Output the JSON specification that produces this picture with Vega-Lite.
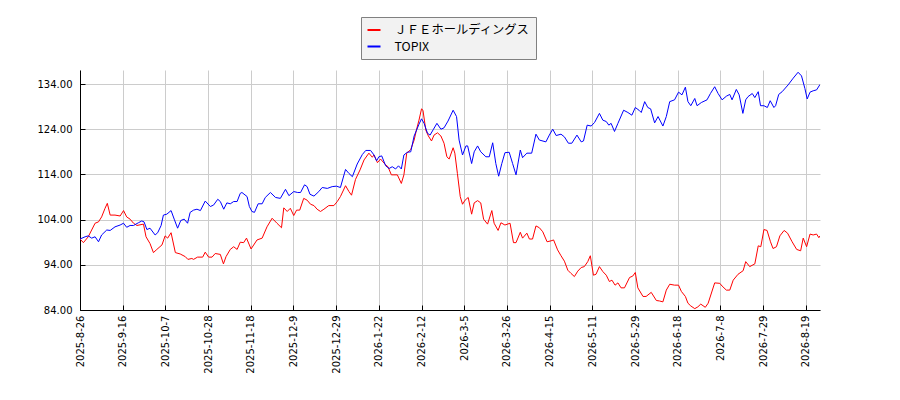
{
  "$schema": "https://vega.github.io/schema/vega-lite/v6.json",
  "autosize": {"type": "none"},
  "padding": {"left": 80, "top": 70, "right": 80, "bottom": 90},
  "width": 740,
  "height": 240,
  "background": "#ffffff",
  "datasets": {
    "jfe": [
      {"day": 0, "value": 99.7}, {"day": 1.2, "value": 98.9}, {"day": 2.9, "value": 100.2}, {"day": 4.1, "value": 101.7},
      {"day": 5.3, "value": 103.2}, {"day": 6.5, "value": 103.5}, {"day": 7.6, "value": 104.6}, {"day": 8.8, "value": 106.5},
      {"day": 9.6, "value": 107.6}, {"day": 10.6, "value": 105.0}, {"day": 12.3, "value": 105.0}, {"day": 14.1, "value": 104.8},
      {"day": 15.3, "value": 106.0}, {"day": 16.4, "value": 104.6}, {"day": 17.6, "value": 104.1}, {"day": 18.8, "value": 103.2},
      {"day": 20.0, "value": 102.7}, {"day": 22.3, "value": 103.0}, {"day": 23.2, "value": 100.2}, {"day": 24.6, "value": 98.7},
      {"day": 25.8, "value": 96.7}, {"day": 27.0, "value": 97.4}, {"day": 28.8, "value": 98.4}, {"day": 29.9, "value": 100.4},
      {"day": 30.8, "value": 99.9}, {"day": 32.0, "value": 101.1}, {"day": 33.5, "value": 96.7}, {"day": 35.2, "value": 96.4},
      {"day": 37.0, "value": 95.8}, {"day": 37.9, "value": 95.2}, {"day": 39.3, "value": 95.4}, {"day": 39.9, "value": 95.2},
      {"day": 41.3, "value": 95.7}, {"day": 43.1, "value": 95.7}, {"day": 44.0, "value": 96.8}, {"day": 45.2, "value": 95.7},
      {"day": 46.4, "value": 95.7}, {"day": 47.5, "value": 96.5}, {"day": 49.3, "value": 96.3}, {"day": 50.4, "value": 94.2},
      {"day": 51.3, "value": 95.8}, {"day": 52.8, "value": 97.4}, {"day": 54.0, "value": 98.0}, {"day": 55.2, "value": 97.4},
      {"day": 56.3, "value": 99.0}, {"day": 57.5, "value": 98.9}, {"day": 58.5, "value": 99.9}, {"day": 60.1, "value": 97.5},
      {"day": 62.2, "value": 99.5}, {"day": 64.0, "value": 99.9}, {"day": 65.7, "value": 102.4}, {"day": 67.5, "value": 104.3},
      {"day": 69.2, "value": 103.2}, {"day": 70.8, "value": 102.2}, {"day": 71.6, "value": 106.6}, {"day": 72.8, "value": 105.8},
      {"day": 73.9, "value": 106.5}, {"day": 75.1, "value": 104.9}, {"day": 76.1, "value": 106.1}, {"day": 77.2, "value": 106.1},
      {"day": 78.6, "value": 108.7}, {"day": 79.8, "value": 108.3}, {"day": 81.0, "value": 107.4}, {"day": 82.2, "value": 107.1},
      {"day": 83.3, "value": 106.3}, {"day": 84.5, "value": 105.8}, {"day": 85.7, "value": 106.3}, {"day": 87.4, "value": 107.1},
      {"day": 89.2, "value": 107.1}, {"day": 90.4, "value": 108.0}, {"day": 91.5, "value": 109.1}, {"day": 93.3, "value": 111.5},
      {"day": 94.5, "value": 110.2}, {"day": 95.4, "value": 109.4}, {"day": 96.8, "value": 112.9}, {"day": 98.4, "value": 115.0},
      {"day": 99.8, "value": 117.2}, {"day": 101.5, "value": 118.7}, {"day": 102.7, "value": 117.8}, {"day": 103.3, "value": 118.3},
      {"day": 104.5, "value": 116.6}, {"day": 105.6, "value": 117.4}, {"day": 107.4, "value": 116.1}, {"day": 108.2, "value": 115.7},
      {"day": 109.4, "value": 113.9}, {"day": 110.3, "value": 113.9}, {"day": 111.5, "value": 113.9}, {"day": 112.9, "value": 112.0},
      {"day": 113.8, "value": 113.9}, {"day": 114.8, "value": 118.7}, {"day": 116.2, "value": 119.5}, {"day": 117.4, "value": 121.6},
      {"day": 118.2, "value": 123.8}, {"day": 119.1, "value": 126.0}, {"day": 120.0, "value": 128.5}, {"day": 120.5, "value": 128.2},
      {"day": 121.5, "value": 123.8}, {"day": 122.4, "value": 122.5}, {"day": 123.5, "value": 121.4}, {"day": 124.4, "value": 122.7},
      {"day": 125.6, "value": 123.2}, {"day": 126.8, "value": 122.5}, {"day": 127.9, "value": 120.9}, {"day": 128.9, "value": 117.9},
      {"day": 129.7, "value": 117.4}, {"day": 131.1, "value": 119.9}, {"day": 131.7, "value": 118.7}, {"day": 132.6, "value": 114.2},
      {"day": 133.6, "value": 109.1}, {"day": 134.4, "value": 107.4}, {"day": 135.3, "value": 108.3}, {"day": 136.4, "value": 108.9},
      {"day": 137.6, "value": 105.2}, {"day": 138.5, "value": 107.7}, {"day": 139.7, "value": 108.2}, {"day": 140.8, "value": 107.7},
      {"day": 141.8, "value": 104.1}, {"day": 143.2, "value": 103.0}, {"day": 144.7, "value": 106.0}, {"day": 145.5, "value": 103.2},
      {"day": 146.9, "value": 101.6}, {"day": 147.9, "value": 103.3}, {"day": 149.3, "value": 102.8}, {"day": 151.1, "value": 103.2},
      {"day": 152.3, "value": 98.9}, {"day": 153.2, "value": 98.9}, {"day": 154.7, "value": 101.2}, {"day": 155.5, "value": 99.9},
      {"day": 157.0, "value": 101.0}, {"day": 157.9, "value": 99.7}, {"day": 159.0, "value": 99.7}, {"day": 160.2, "value": 102.6},
      {"day": 161.4, "value": 102.2}, {"day": 162.6, "value": 101.3}, {"day": 164.1, "value": 99.1}, {"day": 165.5, "value": 99.3},
      {"day": 166.4, "value": 99.5}, {"day": 167.8, "value": 97.3}, {"day": 169.0, "value": 96.0}, {"day": 170.2, "value": 94.8},
      {"day": 171.4, "value": 92.8}, {"day": 172.5, "value": 92.1}, {"day": 173.7, "value": 91.4}, {"day": 174.9, "value": 92.6},
      {"day": 176.1, "value": 93.4}, {"day": 177.2, "value": 93.6}, {"day": 178.4, "value": 94.7}, {"day": 179.3, "value": 96.0},
      {"day": 180.4, "value": 91.7}, {"day": 181.3, "value": 91.9}, {"day": 182.5, "value": 93.6}, {"day": 183.7, "value": 92.5},
      {"day": 184.9, "value": 91.7}, {"day": 186.0, "value": 90.3}, {"day": 186.9, "value": 90.6}, {"day": 188.0, "value": 89.5},
      {"day": 189.0, "value": 90.0}, {"day": 190.1, "value": 88.9}, {"day": 191.3, "value": 88.9}, {"day": 193.1, "value": 91.2},
      {"day": 194.2, "value": 91.5}, {"day": 195.1, "value": 92.3}, {"day": 196.0, "value": 88.9}, {"day": 197.8, "value": 87.0},
      {"day": 198.9, "value": 87.0}, {"day": 200.7, "value": 87.9}, {"day": 202.5, "value": 86.1}, {"day": 203.6, "value": 86.0},
      {"day": 204.8, "value": 85.8}, {"day": 206.0, "value": 88.4}, {"day": 207.2, "value": 89.7}, {"day": 208.9, "value": 89.5},
      {"day": 210.3, "value": 89.5}, {"day": 211.3, "value": 88.1}, {"day": 212.7, "value": 87.0}, {"day": 213.6, "value": 85.5},
      {"day": 214.6, "value": 84.9}, {"day": 216.0, "value": 84.3}, {"day": 217.1, "value": 84.7}, {"day": 218.1, "value": 85.3},
      {"day": 219.7, "value": 84.6}, {"day": 220.7, "value": 85.5}, {"day": 223.0, "value": 90.0}, {"day": 224.8, "value": 89.9},
      {"day": 225.6, "value": 89.3}, {"day": 227.1, "value": 88.4}, {"day": 228.3, "value": 88.4}, {"day": 229.5, "value": 90.6},
      {"day": 231.2, "value": 91.9}, {"day": 233.0, "value": 92.7}, {"day": 233.9, "value": 94.7}, {"day": 235.3, "value": 93.6},
      {"day": 237.1, "value": 94.2}, {"day": 238.3, "value": 98.2}, {"day": 239.2, "value": 98.0}, {"day": 240.3, "value": 101.8},
      {"day": 241.4, "value": 101.6}, {"day": 242.6, "value": 99.1}, {"day": 243.5, "value": 97.6}, {"day": 244.7, "value": 98.0},
      {"day": 245.9, "value": 100.4}, {"day": 247.4, "value": 101.6}, {"day": 248.6, "value": 101.0}, {"day": 250.2, "value": 99.1},
      {"day": 251.8, "value": 97.4}, {"day": 253.2, "value": 97.1}, {"day": 254.1, "value": 99.9}, {"day": 255.3, "value": 98.0},
      {"day": 256.5, "value": 100.8}, {"day": 257.6, "value": 100.6}, {"day": 258.8, "value": 100.8}, {"day": 259.6, "value": 100.0},
      {"day": 260, "value": 100.4}
    ],
    "topix": [
      {"day": 0, "value": 99.7}, {"day": 1.8, "value": 100.2}, {"day": 2.9, "value": 100.4}, {"day": 4.1, "value": 99.9},
      {"day": 5.3, "value": 100.2}, {"day": 6.5, "value": 99.1}, {"day": 7.6, "value": 100.6}, {"day": 9.4, "value": 101.7},
      {"day": 10.6, "value": 101.6}, {"day": 12.3, "value": 102.4}, {"day": 14.1, "value": 102.8}, {"day": 15.3, "value": 103.2},
      {"day": 16.4, "value": 102.3}, {"day": 17.6, "value": 102.7}, {"day": 18.8, "value": 102.7}, {"day": 20.5, "value": 103.3},
      {"day": 21.7, "value": 103.7}, {"day": 22.5, "value": 103.5}, {"day": 23.5, "value": 101.8}, {"day": 24.6, "value": 102.1},
      {"day": 26.4, "value": 100.6}, {"day": 27.3, "value": 101.1}, {"day": 28.5, "value": 102.7}, {"day": 29.3, "value": 105.0},
      {"day": 30.5, "value": 105.2}, {"day": 32.0, "value": 106.0}, {"day": 33.1, "value": 104.1}, {"day": 34.3, "value": 102.1},
      {"day": 35.4, "value": 103.8}, {"day": 36.6, "value": 104.1}, {"day": 37.8, "value": 103.2}, {"day": 38.7, "value": 105.6},
      {"day": 39.9, "value": 106.1}, {"day": 41.1, "value": 106.3}, {"day": 42.3, "value": 106.0}, {"day": 44.0, "value": 108.1},
      {"day": 45.8, "value": 106.9}, {"day": 46.9, "value": 107.2}, {"day": 48.4, "value": 108.5}, {"day": 49.3, "value": 108.0},
      {"day": 50.5, "value": 106.3}, {"day": 51.6, "value": 107.7}, {"day": 52.8, "value": 107.5}, {"day": 54.0, "value": 108.0},
      {"day": 55.2, "value": 108.0}, {"day": 56.3, "value": 109.8}, {"day": 56.9, "value": 110.0}, {"day": 58.7, "value": 109.1},
      {"day": 59.5, "value": 106.9}, {"day": 60.4, "value": 105.8}, {"day": 61.3, "value": 105.6}, {"day": 62.6, "value": 107.5},
      {"day": 64.0, "value": 107.5}, {"day": 65.1, "value": 108.9}, {"day": 66.9, "value": 110.0}, {"day": 68.7, "value": 108.9},
      {"day": 70.4, "value": 108.7}, {"day": 72.2, "value": 110.7}, {"day": 73.4, "value": 109.3}, {"day": 75.1, "value": 110.2},
      {"day": 76.5, "value": 110.0}, {"day": 77.5, "value": 110.0}, {"day": 78.9, "value": 111.7}, {"day": 79.8, "value": 111.3},
      {"day": 80.8, "value": 109.6}, {"day": 82.2, "value": 109.2}, {"day": 83.9, "value": 110.2}, {"day": 85.1, "value": 111.1},
      {"day": 86.9, "value": 110.9}, {"day": 88.6, "value": 111.3}, {"day": 90.1, "value": 111.4}, {"day": 91.5, "value": 111.1},
      {"day": 93.3, "value": 115.1}, {"day": 94.5, "value": 114.2}, {"day": 95.7, "value": 113.5}, {"day": 97.4, "value": 116.3},
      {"day": 99.2, "value": 118.4}, {"day": 100.4, "value": 119.3}, {"day": 102.1, "value": 119.3}, {"day": 103.3, "value": 118.3},
      {"day": 104.2, "value": 117.0}, {"day": 105.0, "value": 117.9}, {"day": 106.0, "value": 118.1}, {"day": 107.4, "value": 115.9},
      {"day": 108.6, "value": 115.3}, {"day": 109.7, "value": 115.7}, {"day": 110.9, "value": 115.2}, {"day": 111.9, "value": 115.9},
      {"day": 112.9, "value": 115.2}, {"day": 113.8, "value": 118.3}, {"day": 115.0, "value": 118.9}, {"day": 116.2, "value": 119.0},
      {"day": 117.4, "value": 122.5}, {"day": 119.1, "value": 125.1}, {"day": 120.0, "value": 126.3}, {"day": 120.9, "value": 125.3},
      {"day": 122.1, "value": 123.1}, {"day": 123.0, "value": 122.7}, {"day": 124.2, "value": 124.0}, {"day": 125.4, "value": 125.3},
      {"day": 126.8, "value": 124.0}, {"day": 127.9, "value": 124.3}, {"day": 129.3, "value": 125.8}, {"day": 131.1, "value": 128.2},
      {"day": 132.3, "value": 126.8}, {"day": 133.2, "value": 121.6}, {"day": 134.4, "value": 118.3}, {"day": 135.6, "value": 120.3},
      {"day": 136.2, "value": 120.3}, {"day": 137.6, "value": 116.4}, {"day": 138.5, "value": 119.0}, {"day": 139.7, "value": 120.3},
      {"day": 140.8, "value": 119.0}, {"day": 142.6, "value": 117.9}, {"day": 143.8, "value": 117.9}, {"day": 145.0, "value": 121.0},
      {"day": 146.1, "value": 116.4}, {"day": 147.1, "value": 113.6}, {"day": 148.2, "value": 116.4}, {"day": 149.3, "value": 118.8},
      {"day": 150.8, "value": 118.9}, {"day": 152.0, "value": 116.4}, {"day": 153.2, "value": 113.9}, {"day": 154.7, "value": 119.4},
      {"day": 155.5, "value": 117.7}, {"day": 157.0, "value": 118.7}, {"day": 158.7, "value": 118.7}, {"day": 160.2, "value": 122.9},
      {"day": 161.4, "value": 121.6}, {"day": 163.7, "value": 121.2}, {"day": 164.9, "value": 122.7}, {"day": 166.1, "value": 124.0},
      {"day": 167.3, "value": 122.6}, {"day": 169.0, "value": 122.9}, {"day": 170.2, "value": 122.3}, {"day": 171.6, "value": 120.9},
      {"day": 172.8, "value": 120.9}, {"day": 174.6, "value": 122.7}, {"day": 176.1, "value": 121.2}, {"day": 176.9, "value": 121.4},
      {"day": 178.2, "value": 124.9}, {"day": 179.6, "value": 124.7}, {"day": 180.8, "value": 125.5}, {"day": 182.5, "value": 127.5},
      {"day": 183.7, "value": 126.0}, {"day": 184.9, "value": 125.7}, {"day": 185.8, "value": 124.9}, {"day": 186.6, "value": 125.3},
      {"day": 187.8, "value": 123.5}, {"day": 189.0, "value": 125.3}, {"day": 191.0, "value": 128.2}, {"day": 192.5, "value": 127.7},
      {"day": 193.9, "value": 127.1}, {"day": 195.1, "value": 128.8}, {"day": 196.4, "value": 128.2}, {"day": 197.2, "value": 127.7},
      {"day": 198.4, "value": 130.1}, {"day": 199.5, "value": 128.8}, {"day": 200.5, "value": 128.5}, {"day": 201.9, "value": 125.4},
      {"day": 203.1, "value": 126.8}, {"day": 204.8, "value": 124.7}, {"day": 206.0, "value": 126.8}, {"day": 207.2, "value": 130.1},
      {"day": 208.9, "value": 130.5}, {"day": 210.3, "value": 132.2}, {"day": 211.5, "value": 131.6}, {"day": 212.7, "value": 133.3},
      {"day": 213.6, "value": 130.1}, {"day": 214.6, "value": 129.2}, {"day": 216.0, "value": 130.8}, {"day": 216.8, "value": 129.2},
      {"day": 218.3, "value": 129.9}, {"day": 220.3, "value": 130.5}, {"day": 221.5, "value": 131.9}, {"day": 223.0, "value": 133.4},
      {"day": 224.2, "value": 131.9}, {"day": 225.6, "value": 130.5}, {"day": 227.1, "value": 131.3}, {"day": 228.3, "value": 131.7},
      {"day": 229.1, "value": 130.5}, {"day": 230.6, "value": 132.8}, {"day": 231.6, "value": 131.6}, {"day": 232.9, "value": 127.5},
      {"day": 233.9, "value": 130.5}, {"day": 234.7, "value": 131.2}, {"day": 236.2, "value": 131.9}, {"day": 237.1, "value": 131.0},
      {"day": 238.3, "value": 132.3}, {"day": 239.1, "value": 129.2}, {"day": 240.3, "value": 129.2}, {"day": 241.5, "value": 128.8},
      {"day": 242.5, "value": 130.3}, {"day": 243.8, "value": 128.8}, {"day": 244.4, "value": 129.2}, {"day": 245.5, "value": 131.7},
      {"day": 246.7, "value": 132.3}, {"day": 248.8, "value": 133.8}, {"day": 250.6, "value": 135.3}, {"day": 252.3, "value": 136.6},
      {"day": 253.5, "value": 135.8}, {"day": 254.7, "value": 133.0}, {"day": 255.5, "value": 130.7}, {"day": 256.5, "value": 132.2},
      {"day": 257.6, "value": 132.5}, {"day": 258.8, "value": 132.7}, {"day": 260, "value": 133.9}
    ]
  },
  "encoding": {
    "x": {
      "field": "day",
      "type": "quantitative",
      "scale": {"domain": [0, 260], "nice": false, "zero": false},
      "axis": {
        "title": null,
        "values": [0, 15, 30, 45, 60, 75, 90, 105, 120, 135, 150, 165, 180, 195, 210, 225, 240, 255],
        "labelExpr": "['2025-8-26','2025-9-16','2025-10-7','2025-10-28','2025-11-18','2025-12-9','2025-12-29','2026-1-22','2026-2-12','2026-3-5','2026-3-26','2026-4-15','2026-5-11','2026-5-29','2026-6-18','2026-7-8','2026-7-29','2026-8-19'][round(datum.value / 15)]",
        "labelAngle": -90,
        "labelPadding": 10
      }
    },
    "y": {
      "field": "value",
      "type": "quantitative",
      "scale": {"domain": [84, 137.1], "nice": false, "zero": false},
      "axis": {
        "title": null,
        "values": [84, 94, 104, 114, 124, 134],
        "format": ".2f",
        "labelPadding": 13
      }
    }
  },
  "layer": [
    {
      "data": {"name": "jfe"},
      "mark": {"type": "line", "strokeWidth": 1, "clip": true},
      "encoding": {
        "color": {
          "datum": "ＪＦＥホールディングス",
          "type": "nominal",
          "scale": {"domain": ["ＪＦＥホールディングス", "TOPIX"], "range": ["#ff0000", "#0000ff"]},
          "legend": {"title": null}
        }
      }
    },
    {
      "data": {"name": "topix"},
      "mark": {"type": "line", "strokeWidth": 1, "clip": true},
      "encoding": {
        "color": {"datum": "TOPIX", "type": "nominal"}
      }
    }
  ],
  "config": {
    "view": {"stroke": null},
    "axis": {
      "labelFont": "DejaVu Sans",
      "labelFontSize": 10,
      "labelColor": "#000000",
      "domainColor": "#000000",
      "domainWidth": 1,
      "tickColor": "#000000",
      "tickSize": -5,
      "grid": true,
      "gridColor": "#cccccc",
      "gridWidth": 1
    },
    "legend": {
      "orient": "none",
      "legendX": 281,
      "legendY": -53,
      "fillColor": "#f2f2f2",
      "strokeColor": "#808080",
      "padding": 5.5,
      "cornerRadius": 0,
      "symbolType": "stroke",
      "symbolSize": 169,
      "symbolStrokeWidth": 2,
      "labelFont": "Noto Sans CJK JP",
      "labelFontSize": 12.3,
      "labelColor": "#000000",
      "labelOffset": 13,
      "rowPadding": 2.5
    }
  }
}
